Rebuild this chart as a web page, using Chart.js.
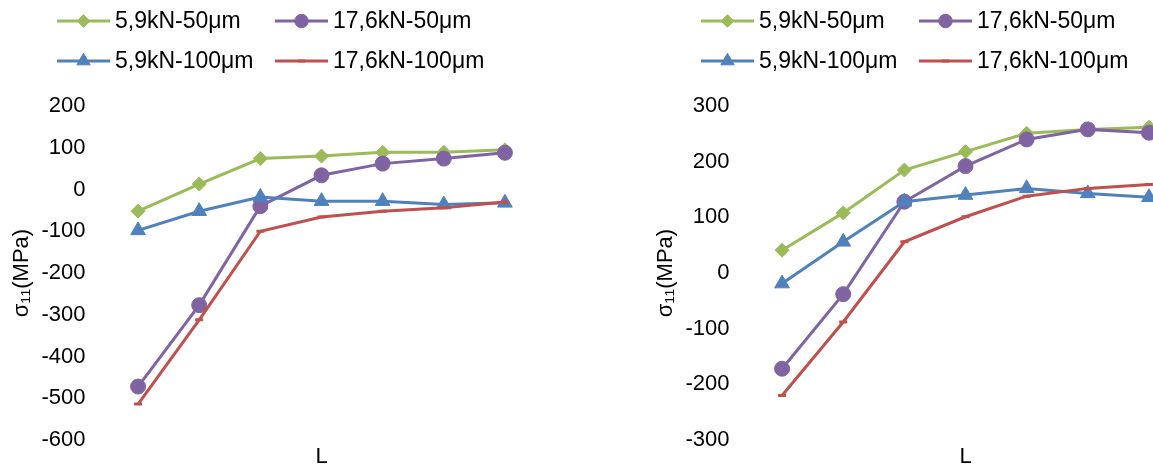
<!DOCTYPE html>
<html>
<head>
<meta charset="utf-8">
<script src="https://cdn.jsdelivr.net/npm/chart.js@4/dist/chart.umd.min.js"></script>
<style>
  body { margin: 0; background: #fff; overflow: hidden; width: 1153px; height: 471px; }
  .caja { position: absolute; top: 0; width: 644px; height: 471px; }
</style>
</head>
<body>
<div class="caja" style="left:0"><canvas id="graficoIzq"></canvas></div>
<div class="caja" style="left:644px"><canvas id="graficoDer"></canvas></div>
<script>
// Datos
const posiciones = ["1", "2", "3", "4", "5", "6", "7"];
const series = ["5,9kN-50μm", "17,6kN-50μm", "5,9kN-100μm", "17,6kN-100μm"];

// grafico izquierdo
const izq59_50 = [-52, 13, 74, 80, 89, 89, 95];
const izq176_50 = [-472, -277, -40, 34, 62, 74, 88];
const izq59_100 = [-98, -52, -18, -28, -28, -36, -32];
const izq176_100 = [-514, -312, -100, -66, -52, -44, -30];
const ticksIzq = { min: -600, max: 200, paso: 100 };

// grafico derecho
const der59_50 = [41, 108, 185, 218, 251, 258, 262];
const der176_50 = [-172, -38, 128, 192, 240, 258, 252];
const der59_100 = [-19, 56, 128, 140, 152, 143, 136];
const der176_100 = [-220, -88, 56, 101, 138, 152, 159];
const ticksDer = { min: -300, max: 300, paso: 100 };

const colores = ["#9BBB59", "#8064A2", "#4F81BD", "#C0504D"];
const marcadores = ["rectRot", "circle", "triangle", "line"];
const radios = [7, 7.5, 8.5, 4];
const fuente = "'Liberation Sans', Arial, sans-serif";

// leyenda en grilla 2x2 como en el original
const leyendaGrilla = {
    id: "leyendaGrilla",
    afterDraw(chart) {
        const ctx = chart.ctx;
        const colX = [57, 275];
        const filaY = [21, 61];
        ctx.save();
        chart.data.datasets.forEach((ds, i) => {
            const x = colX[i % 2];
            const y = filaY[Math.floor(i / 2)];
            ctx.strokeStyle = ds.borderColor;
            ctx.lineWidth = 3;
            ctx.beginPath();
            ctx.moveTo(x, y);
            ctx.lineTo(x + 53, y);
            ctx.stroke();
            ctx.fillStyle = ds.backgroundColor;
            ctx.lineWidth = ds.pointStyle === "line" ? 3 : 1;
            Chart.helpers.drawPoint(ctx, {
                pointStyle: ds.pointStyle,
                radius: ds.pointRadius * 0.9,
                borderWidth: ctx.lineWidth,
                rotation: 0
            }, x + 26.5, y);
            ctx.fillStyle = "#000";
            ctx.font = "23px " + fuente;
            ctx.textBaseline = "middle";
            ctx.textAlign = "left";
            ctx.fillText(ds.label, x + 58, y + 1);
        });
        ctx.restore();
    }
};

function armarDatasets(valores) {
    return valores.map((v, i) => ({
        label: series[i],
        data: v,
        borderColor: colores[i],
        backgroundColor: colores[i],
        borderWidth: 3,
        pointStyle: marcadores[i],
        pointRadius: radios[i],
        pointBorderWidth: marcadores[i] === "line" ? 3 : 1,
        pointBackgroundColor: colores[i],
        pointBorderColor: colores[i],
        tension: 0,
        order: 3 - i
    }));
}

function crearGrafico(id, valores, rango) {
    return new Chart(document.getElementById(id), {
        type: "line",
        data: { labels: posiciones, datasets: armarDatasets(valores) },
        options: {
            responsive: true,
            maintainAspectRatio: false,
            animation: false,
            layout: { padding: { top: 106, left: 0, right: 108.5, bottom: 0 } },
            plugins: { legend: { display: false }, tooltip: { enabled: false } },
            scales: {
                x: {
                    offset: true,
                    grid: { display: false, drawTicks: false },
                    border: { display: false },
                    ticks: { display: false },
                    title: {
                        display: true, text: "L", color: "#000",
                        font: { family: fuente, size: 22 },
                        padding: { top: 0, bottom: 1 }
                    },
                    afterFit: s => { s.height = 31; }
                },
                y: {
                    min: rango.min,
                    max: rango.max,
                    // separacion de las etiquetas con tickLength (el padding agranda el margen inferior)
                    grid: { display: false, drawTicks: true, tickLength: 22 },
                    border: { display: false },
                    ticks: {
                        stepSize: rango.paso, padding: 0, color: "#000",
                        font: { family: fuente, size: 22 }
                    },
                    title: {
                        display: true, text: "σ₁₁(MPa)", color: "#000",
                        font: { family: fuente, size: 22 },
                        padding: { top: 9, bottom: 0 }
                    },
                    afterFit: s => { s.width = 107.5; }
                }
            }
        },
        plugins: [leyendaGrilla]
    });
}

crearGrafico("graficoIzq", [izq59_50, izq176_50, izq59_100, izq176_100], ticksIzq);
crearGrafico("graficoDer", [der59_50, der176_50, der59_100, der176_100], ticksDer);
</script>
</body>
</html>
